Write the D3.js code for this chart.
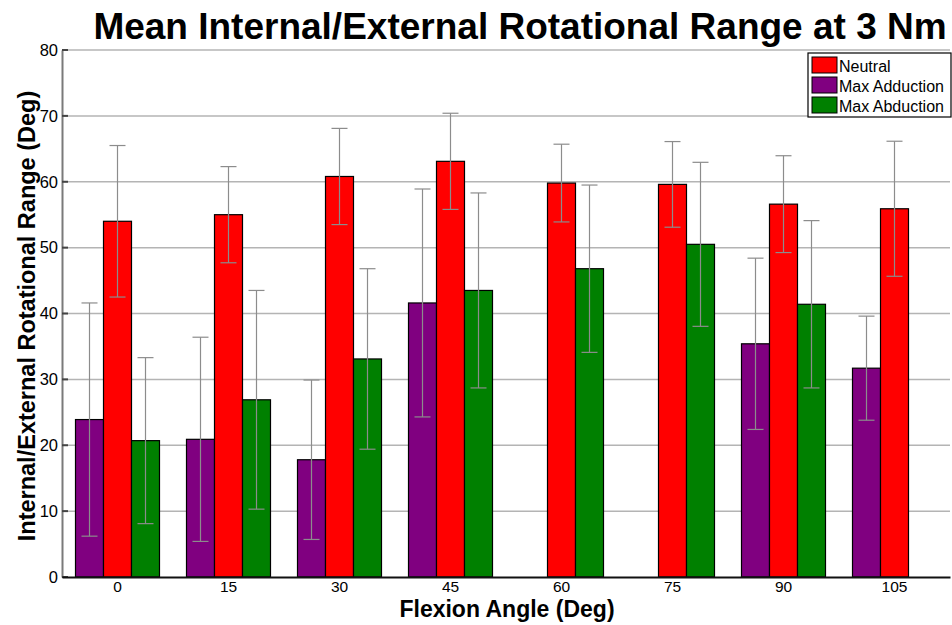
<!DOCTYPE html>
<html><head><meta charset="utf-8">
<script src="https://cdn.jsdelivr.net/npm/d3@7"></script>
<style>body{margin:0;background:#fff;}svg{display:block;font-family:"Liberation Sans",Arial,sans-serif;}</style>
</head><body><svg id="c" width="952" height="625"></svg>
<script>
const categories = ["0","15","30","45","60","75","90","105"];
const seriesNames = ["Max Adduction","Neutral","Max Abduction"];
const legendOrder = ["Neutral","Max Adduction","Max Abduction"];
const colors = {"Neutral":"#ff0000","Max Adduction":"#800080","Max Abduction":"#008000"};
const adductionMean = [23.9,20.9,17.8,41.6,0,0,35.4,31.7];
const adductionErr  = [17.7,15.5,12.1,17.3,0,0,13.0,7.9];
const neutralMean   = [54.0,55.0,60.8,63.1,59.8,59.6,56.6,55.9];
const neutralErr    = [11.5,7.3,7.3,7.3,5.9,6.5,7.35,10.25];
const abductionMean = [20.7,26.9,33.1,43.5,46.8,50.5,41.4,0];
const abductionErr  = [12.6,16.6,13.7,14.8,12.7,12.45,12.7,0];
const yTicks = [0,10,20,30,40,50,60,70,80];

const means = {"Max Adduction":adductionMean,"Neutral":neutralMean,"Max Abduction":abductionMean};
const errs = {"Max Adduction":adductionErr,"Neutral":neutralErr,"Max Abduction":abductionErr};

const svg = d3.select("#c");
const L=62, R=950, T=50, B=577;
const x = d3.scaleBand().domain(categories).range([L,R]).paddingInner(0).paddingOuter(0);
const y = d3.scaleLinear().domain([0,80]).range([B,T]);
const barW = 28;
const xs = d3.scaleBand().domain(seriesNames).range([0,barW*3]);

// grid
svg.append("g").selectAll("line").data(yTicks.filter(d=>d>0)).join("line")
  .attr("x1",L).attr("x2",R).attr("y1",d=>y(d)).attr("y2",d=>y(d))
  .attr("stroke","#b4b4b4").attr("stroke-width",1.5);

// bars
const rows = [];
categories.forEach((c,i)=>seriesNames.forEach(s=>rows.push({c,s,v:means[s][i],e:errs[s][i]})));
const off = (x.bandwidth()-barW*3)/2;
svg.append("g").selectAll("rect").data(rows).join("rect")
  .attr("x",d=>x(d.c)+off+xs(d.s)).attr("width",barW)
  .attr("y",d=>y(d.v)).attr("height",d=>y(0)-y(d.v))
  .attr("fill",d=>colors[d.s]).attr("stroke","#000").attr("stroke-width",1.2);

// error bars
const eg = svg.append("g").attr("stroke","#8c8c8c").attr("stroke-width",1.2);
rows.filter(d=>d.e>0).forEach(d=>{
  const cx = x(d.c)+off+xs(d.s)+barW/2;
  eg.append("line").attr("x1",cx).attr("x2",cx).attr("y1",y(d.v+d.e)).attr("y2",y(d.v-d.e));
  eg.append("line").attr("x1",cx-8).attr("x2",cx+8).attr("y1",y(d.v+d.e)).attr("y2",y(d.v+d.e));
  eg.append("line").attr("x1",cx-8).attr("x2",cx+8).attr("y1",y(d.v-d.e)).attr("y2",y(d.v-d.e));
});

// axes
const ya = d3.axisLeft(y).tickValues(yTicks).tickSize(0).tickPadding(4);
const yg = svg.append("g").attr("transform",`translate(${L},0)`).call(ya);
yg.select(".domain").attr("stroke","#7a7a7a").attr("stroke-width",2);
yg.selectAll("text").attr("font-size",16.5).attr("fill","#000").attr("font-family","Liberation Sans, Arial, sans-serif");
svg.append("g").selectAll("line").data(yTicks).join("line")
  .attr("x1",L).attr("x2",L+6).attr("y1",d=>y(d)).attr("y2",d=>y(d))
  .attr("stroke","#444").attr("stroke-width",2);

const xa = d3.axisBottom(x).tickSize(0).tickPadding(4);
const xg = svg.append("g").attr("transform",`translate(0,${B})`).call(xa);
xg.select(".domain").attr("stroke","#111").attr("stroke-width",2);
xg.selectAll("text").attr("font-size",15.5).attr("fill","#000").attr("font-family","Liberation Sans, Arial, sans-serif");

// titles
svg.append("text").attr("x",520).attr("y",39).attr("text-anchor","middle")
  .attr("font-size",37).attr("font-weight","bold").text("Mean Internal/External Rotational Range at 3 Nm");
svg.append("text").attr("x",507).attr("y",617).attr("text-anchor","middle")
  .attr("font-size",23).attr("font-weight","bold").text("Flexion Angle (Deg)");
svg.append("text").attr("transform",`translate(35,316) rotate(-90)`).attr("text-anchor","middle")
  .attr("font-size",23.5).attr("font-weight","bold").text("Internal/External Rotational Range (Deg)");

// legend
const lg = svg.append("g").attr("transform","translate(808,53)");
lg.append("rect").attr("width",143).attr("height",64).attr("fill","#fff").attr("stroke","#000").attr("stroke-width",1.2);
legendOrder.forEach((s,i)=>{
  lg.append("rect").attr("x",4).attr("y",4+i*20).attr("width",25).attr("height",16)
    .attr("fill",colors[s]).attr("stroke","#000").attr("stroke-width",1);
  lg.append("text").attr("x",31).attr("y",18.5+i*20).attr("font-size",16).text(s);
});
</script></body></html>
